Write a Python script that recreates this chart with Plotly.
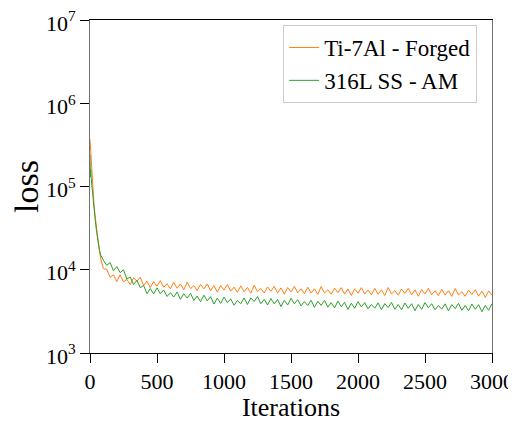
import plotly.graph_objects as go

# ---- data ----
iter_early = [0, 3, 5, 10, 15, 20, 30, 40, 50, 60, 70, 80, 90, 100]
iter_late = list(range(125, 3001, 25))
iterations = iter_early + iter_late

ti7al_early = [370000, 300000, 250000, 170000, 120000, 90000, 60000, 42000,
               30000, 22000, 17000, 13500, 11500, 10300]
ti7al_late = [
    10100, 8100, 8700, 7200, 8700, 7150, 7650, 6650, 8000, 7300,
    8150, 6450, 7300, 6100, 7200, 6350, 7400, 6150, 6800, 5900,
    7050, 6000, 6750, 5760, 7100, 5920, 6440, 5640, 6670, 5900,
    6730, 5610, 6440, 5380, 6440, 5700, 6640, 5530, 6170, 5370,
    6410, 5450, 6130, 5240, 6500, 5450, 5950, 5250, 6220, 5520,
    6310, 5270, 6060, 5080, 6100, 5420, 6320, 5280, 5900, 5150,
    6160, 5250, 5910, 5060, 6280, 5260, 5760, 5080, 6020, 5340,
    6100, 5100, 5860, 4910, 5900, 5230, 6100, 5110, 5700, 4990,
    5970, 5090, 5740, 4910, 6110, 5120, 5610, 4950, 5870, 5210,
    5970, 4990, 5740, 4810, 5780, 5130, 5980, 5000, 5580, 4880,
    5830, 4970, 5600, 4790, 5950, 4980, 5450, 4800, 5690, 5050,
    5780, 4820, 5540, 4650, 5570, 4940]

ss316l_early = [240000, 130000, 160000, 120000, 95000, 75000, 52000, 38000,
                28000, 21000, 17500, 15000, 13800, 13000]
ss316l_late = [
    11300, 12200, 9720, 10900, 9220, 9990, 7730, 8190, 6640, 7480,
    6080, 6480, 5160, 5940, 5120, 6050, 5140, 5720, 4780, 5300,
    4700, 5400, 4410, 5140, 4560, 5220, 4280, 4830, 4140, 4950,
    4230, 4750, 3870, 4560, 3950, 4700, 4030, 4470, 3750, 4260,
    3900, 4580, 3830, 4600, 4150, 4770, 3910, 4410, 3780, 4510,
    3900, 4410, 3610, 4290, 3770, 4540, 3910, 4370, 3680, 4140,
    3720, 4300, 3530, 4180, 3730, 4300, 3550, 4030, 3480, 4190,
    3600, 4070, 3340, 3960, 3450, 4140, 3580, 4020, 3390, 3830,
    3450, 4000, 3300, 3920, 3510, 4050, 3350, 3820, 3310, 3990,
    3440, 3910, 3220, 3830, 3350, 4030, 3490, 3910, 3300, 3720,
    3360, 3890, 3210, 3810, 3410, 3940, 3260, 3720, 3220, 3880,
    3350, 3800, 3130, 3720, 3260, 3920]

ti7al_loss = ti7al_early + ti7al_late
ss316l_loss = ss316l_early + ss316l_late

series_names = ["Ti-7Al - Forged", "316L SS - AM"]
series_colors = ["#ff7f0e", "#2ca02c"]

y_tickvals = [1e3, 1e4, 1e5, 1e6, 1e7]
y_ticktext = ["10<sup>3</sup>", "10<sup>4</sup>", "10<sup>5</sup>",
              "10<sup>6</sup>", "10<sup>7</sup>"]
x_tickvals = [0, 500, 1000, 1500, 2000, 2500, 3000]

FONT = "Liberation Serif"

fig = go.Figure()
for name, ys, col in zip(series_names, [ti7al_loss, ss316l_loss], series_colors):
    fig.add_trace(go.Scatter(x=iterations, y=ys, mode="lines", name=name,
                             line=dict(color=col, width=1)))

# page body has an 8px default margin, so the figure is sized 508x414
fig.update_layout(
    width=508, height=414,
    margin=dict(l=82, r=24, t=12, b=69, autoexpand=False),
    paper_bgcolor="white", plot_bgcolor="white",
    font=dict(family=FONT, size=22, color="black"),
    showlegend=True,
    legend=dict(x=0.963, y=0.985, xanchor="right", yanchor="top",
                bgcolor="rgba(255,255,255,0.8)", bordercolor="#cccccc",
                borderwidth=1, font=dict(family=FONT, size=23),
                tracegroupgap=0, itemwidth=30),
)
fig.update_xaxes(
    range=[0, 3000], tickvals=x_tickvals, showgrid=False, zeroline=False,
    showline=True, linecolor="black", linewidth=1, mirror=True,
    ticks="outside", ticklen=9, tickwidth=1, tickcolor="black",
    tickfont=dict(family=FONT, size=22), automargin=False,
    ticklabeloverflow="allow",
    title=dict(text="Iterations", font=dict(family=FONT, size=26), standoff=0),
)
fig.update_yaxes(
    type="log", range=[3, 7], tickvals=y_tickvals, ticktext=y_ticktext,
    showgrid=False, zeroline=False,
    showline=True, linecolor="#707070", linewidth=1, mirror=True,
    ticks="outside", ticklen=9, tickwidth=1, tickcolor="black",
    tickfont=dict(family=FONT, size=22), automargin=False,
    ticklabeloverflow="allow", ticklabelshift=3,
    title=dict(text="loss", font=dict(family=FONT, size=34), standoff=2),
)

fig.write_html("out.html")
